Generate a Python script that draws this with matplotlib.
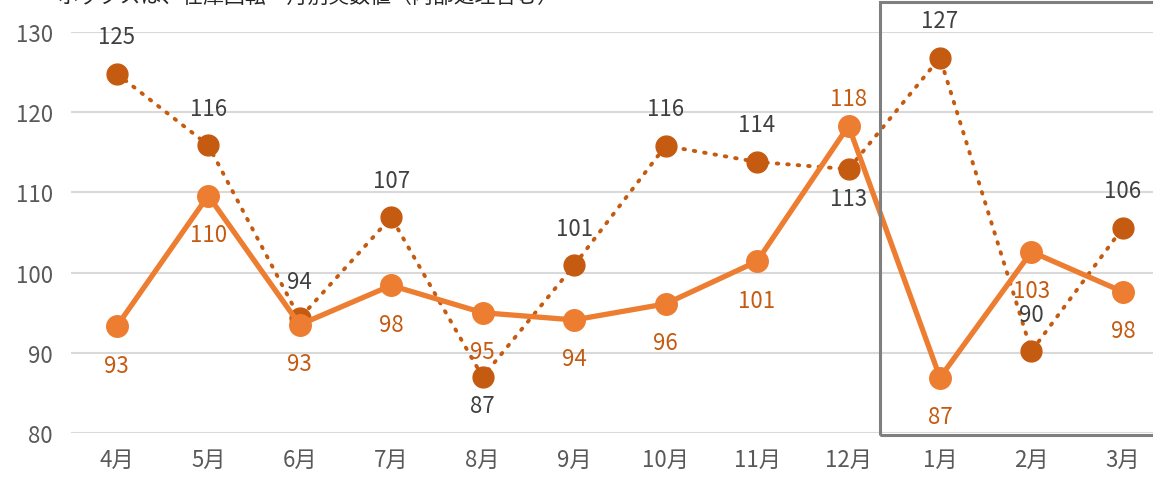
import numpy as np
import matplotlib.pyplot as plt
from matplotlib.patches import Rectangle

plt.rcParams['font.family'] = ['Noto Sans CJK JP', 'DejaVu Sans']

months = ['4月', '5月', '6月', '7月', '8月', '9月', '10月', '11月', '12月', '1月', '2月', '3月']
solid_vals = [93.3, 109.6, 93.5, 98.4, 95.0, 94.1, 96.1, 101.4, 118.3, 86.9, 102.6, 97.6]
dotted_vals = [124.8, 115.9, 94.3, 106.9, 87.0, 100.9, 115.8, 113.8, 112.9, 126.8, 90.2, 105.6]
solid_labels = ['93', '110', '93', '98', '95', '94', '96', '101', '118', '87', '103', '98']
dotted_labels = ['125', '116', '94', '107', '87', '101', '116', '114', '113', '127', '90', '106']
# label above (+1) or below (-1) the point
solid_pos = [-1, -1, -1, -1, -1, -1, -1, -1, 1, -1, -1, -1]
dotted_pos = [1, 1, 1, 1, -1, 1, 1, 1, -1, 1, 1, 1]

W, H = 1153, 489
fig = plt.figure(figsize=(W / 100, H / 100), dpi=100)
ax = fig.add_axes([71 / W, 1 - 434 / H, (1153 - 71) / W, (434 - 33) / H])

x = np.arange(len(months))
ax.plot(x, dotted_vals, color='#C55A11', lw=2.8, linestyle=(0, (0.4, 2.3)),
        dash_capstyle='round', marker='o', markersize=15, zorder=3)
ax.plot(x, solid_vals, color='#ED7D31', lw=3.8, marker='o', markersize=15.5,
        solid_joinstyle='miter', zorder=4)

for i in range(len(months)):
    off = 27 if solid_pos[i] > 0 else -39
    ax.annotate(solid_labels[i], (x[i], solid_vals[i]), xytext=(0, off * 0.72),
                textcoords='offset points', ha='center', va='center',
                fontsize=16, color='#C55A11', zorder=5)
    off = 37 if dotted_pos[i] > 0 else -29
    ax.annotate(dotted_labels[i], (x[i], dotted_vals[i]), xytext=(0, off * 0.72),
                textcoords='offset points', ha='center', va='center',
                fontsize=16, color='#404040', zorder=5)

ax.set_xlim(-0.5, (1153 - 117) / 91.45)
ax.set_ylim(80, 130)
ax.set_yticks([80, 90, 100, 110, 120, 130])
ax.set_xticks(x)
ax.set_xticklabels(months)
ax.grid(axis='y', color='#D9D9D9', lw=1.5)
ax.set_axisbelow(True)
for s in ax.spines.values():
    s.set_visible(False)
ax.tick_params(length=0, labelsize=16, labelcolor='#595959')
ax.tick_params(axis='x', pad=11)
ax.tick_params(axis='y', pad=13)

fig.patches.append(Rectangle((880 / W, 1 - 436 / H), 300 / W, 433 / H,
                             transform=fig.transFigure, fill=False,
                             edgecolor='#7F7F7F', lw=2.2, zorder=10))

fig.text(58 / W, 1 - 8 / H, 'ボックスは、在庫回転・月別実数値（内部処理含む）',
         fontsize=15, color='#262626', ha='left', va='bottom')

fig.savefig('out.png', dpi=100)
